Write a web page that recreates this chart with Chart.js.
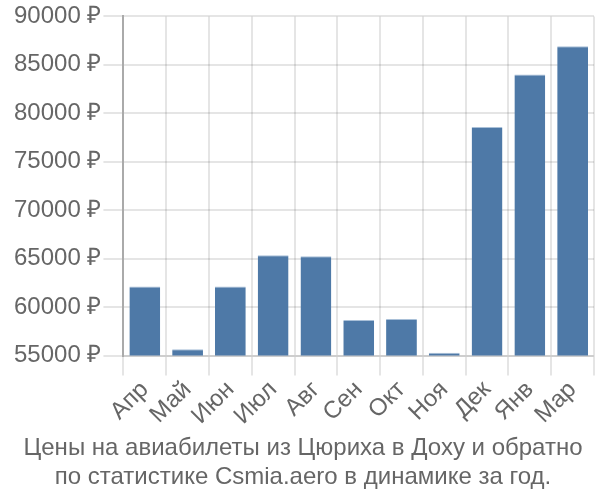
<!DOCTYPE html>
<html>
<head>
<meta charset="utf-8">
<script src="https://cdn.jsdelivr.net/npm/chart.js@4/dist/chart.umd.min.js"></script>
<style>
html,body{margin:0;padding:0;background:#fff;}
#wrap{width:600px;height:500px;}
</style>
</head>
<body>
<div id="wrap"><canvas id="c"></canvas></div>
<script>
const categories = ["Апр","Май","Июн","Июл","Авг","Сен","Окт","Ноя","Дек","Янв","Мар"];
const prices = [62130, 55660, 62130, 65350, 65250, 58670, 58770, 55280, 78600, 84010, 86920];
const titleLines = ["Цены на авиабилеты из Цюриха в Доху и обратно","по статистике Csmia.aero в динамике за год."];

Chart.defaults.font.family = "'Liberation Sans', Arial, sans-serif";
Chart.defaults.color = "#666";

new Chart(document.getElementById('c'), {
  type: 'bar',
  data: {
    labels: categories,
    datasets: [{
      data: prices,
      backgroundColor: '#4e79a7',
      borderColor: '#a9c0d8',
      borderWidth: {top: 1, left: 0, right: 0, bottom: 0}
    }]
  },
  options: {
    responsive: true,
    maintainAspectRatio: false,
    animation: false,
    layout: {padding: {left: 12, right: 6, top: 2, bottom: 0}},
    plugins: {
      legend: {display: false},
      tooltip: {enabled: false},
      title: {
        display: true,
        position: 'bottom',
        text: titleLines,
        font: {size: 24, weight: 'normal'},
        color: '#666',
        padding: {top: 4, bottom: 8},
        lineHeight: 1.1
      }
    },
    scales: {
      x: {
        grid: {color: 'rgba(0,0,0,0.1)', lineWidth: 2, tickLength: 20, offset: true},
        border: {color: 'rgba(0,0,0,0.1)', width: 2},
        ticks: {font: {size: 24}, color: '#666', maxRotation: 45, minRotation: 45, padding: 0, autoSkip: false}
      },
      y: {
        min: 55000,
        max: 90000,
        grid: {color: 'rgba(0,0,0,0.1)', lineWidth: 2, tickLength: 20},
        border: {color: '#aaa', width: 2},
        ticks: {
          stepSize: 5000,
          font: {size: 24},
          color: '#666',
          padding: 2,
          callback: v => v + ' ₽'
        }
      }
    }
  }
});
</script>
</body>
</html>
